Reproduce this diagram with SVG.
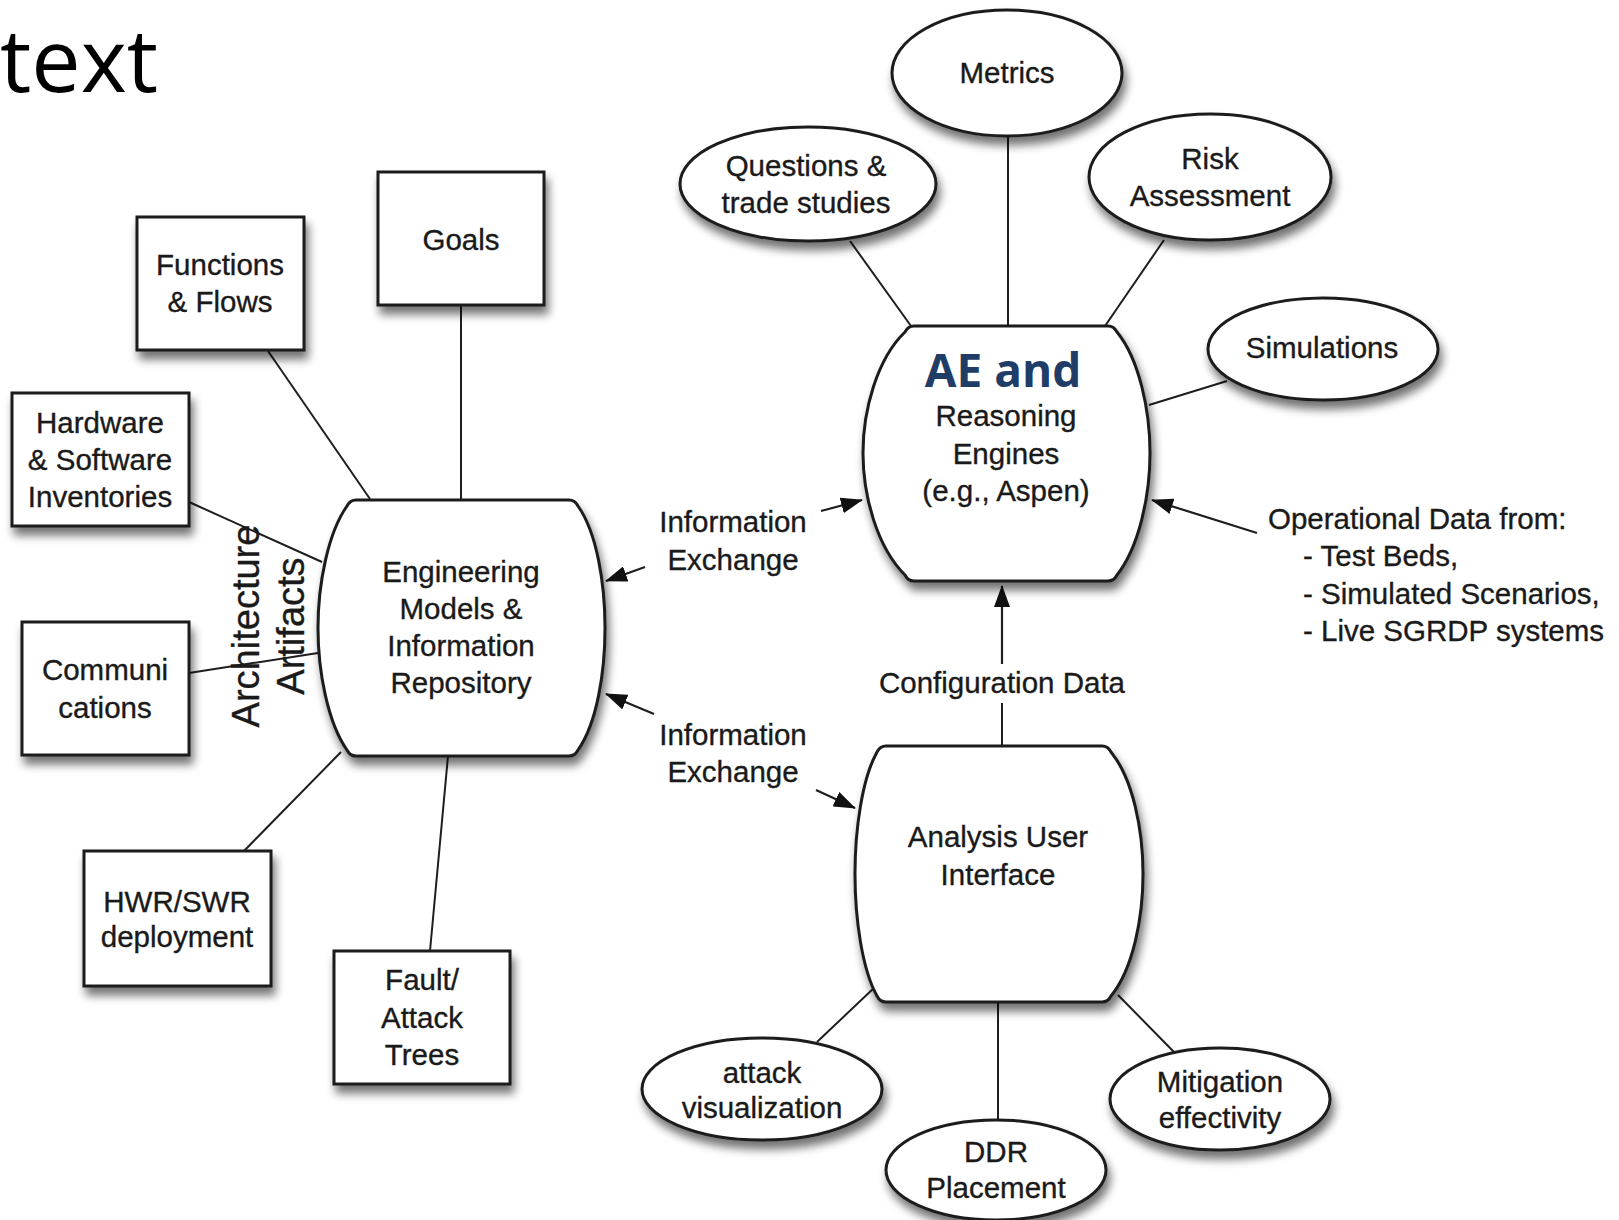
<svg xmlns="http://www.w3.org/2000/svg" width="1619" height="1220" viewBox="0 0 1619 1220">
  <style>
    .shape { fill: #ffffff; stroke: #1c1c1c; stroke-width: 3; }
    .lbl { font-family: "Liberation Sans", Arial, sans-serif; font-size: 29.5px; fill: #1a1a1a; stroke: #1a1a1a; stroke-width: 0.35; text-anchor: middle; }
    .lbl-left { font-family: "Liberation Sans", Arial, sans-serif; font-size: 29.5px; fill: #1a1a1a; stroke: #1a1a1a; stroke-width: 0.35; }
    .side { font-family: "Liberation Sans", Arial, sans-serif; font-size: 38px; fill: #1a1a1a; stroke: #1a1a1a; stroke-width: 0.35; text-anchor: middle; }
    .title { font-family: "Open Sans", "Noto Sans", sans-serif; font-size: 88px; fill: #000000; }
    .ae { font-family: "Open Sans", "Noto Sans", sans-serif; font-size: 46px; font-weight: bold; fill: #1f3d66; text-anchor: middle; }
    .link { stroke: #1e1e1e; stroke-width: 2; fill: none; }
    .arrow { stroke: #1e1e1e; stroke-width: 2.2; fill: none; marker-end: url(#head); }
  </style>
  <defs>
    <filter id="shadow" x="-20%" y="-20%" width="140%" height="150%">
      <feGaussianBlur in="SourceAlpha" stdDeviation="5"/>
      <feOffset dx="3" dy="8" result="blur"/>
      <feComponentTransfer>
        <feFuncA type="linear" slope="0.55"/>
      </feComponentTransfer>
      <feMerge>
        <feMergeNode/>
        <feMergeNode in="SourceGraphic"/>
      </feMerge>
    </filter>
    <marker id="head" viewBox="0 0 22 16" refX="21" refY="8" markerUnits="userSpaceOnUse" markerWidth="22" markerHeight="16" orient="auto">
      <path d="M0,0 L22,8 L0,16 z" fill="#111111"/>
    </marker>
  </defs>

  <rect width="1619" height="1220" fill="#ffffff"/>

  <text class="title" x="0" y="92">text</text>

  <!-- connectors -->
  <g id="connectors">
    <line class="link" x1="268" y1="351" x2="370" y2="499"/>
    <line class="link" x1="461" y1="305" x2="461" y2="500"/>
    <line class="link" x1="189" y1="502" x2="322" y2="562"/>
    <line class="link" x1="189" y1="673" x2="318" y2="653"/>
    <line class="link" x1="244" y1="851" x2="341" y2="752"/>
    <line class="link" x1="430" y1="951" x2="448" y2="756"/>
    <line class="link" x1="850" y1="241" x2="911" y2="326"/>
    <line class="link" x1="1008" y1="137" x2="1008" y2="326"/>
    <line class="link" x1="1164" y1="240" x2="1105" y2="326"/>
    <line class="link" x1="1227" y1="381" x2="1149" y2="405"/>
    <line class="link" x1="817" y1="1042" x2="875" y2="987"/>
    <line class="link" x1="998" y1="1002" x2="998" y2="1120"/>
    <line class="link" x1="1174" y1="1052" x2="1118" y2="995"/>
    <line class="arrow" x1="821" y1="511" x2="862" y2="500"/>
    <line class="arrow" x1="645" y1="567" x2="606" y2="581"/>
    <line class="arrow" x1="654" y1="714" x2="606" y2="694"/>
    <line class="arrow" x1="816" y1="790" x2="855" y2="808"/>
    <line class="arrow" x1="1257" y1="533" x2="1152" y2="500"/>
    <line class="link" x1="1002" y1="746" x2="1002" y2="703"/>
    <line class="arrow" x1="1002" y1="664" x2="1002" y2="586"/>
  </g>

  <!-- edge labels -->
  <g id="edge-labels">
    <text class="lbl" x="733" y="532">Information</text>
    <text class="lbl" x="733" y="570">Exchange</text>
    <text class="lbl" x="733" y="745">Information</text>
    <text class="lbl" x="733" y="782">Exchange</text>
    <text class="lbl" x="1002" y="693">Configuration Data</text>
    <text class="lbl-left" x="1268" y="529">Operational Data from:</text>
    <text class="lbl-left" x="1303" y="566">- Test Beds,</text>
    <text class="lbl-left" x="1303" y="604">- Simulated Scenarios,</text>
    <text class="lbl-left" x="1303" y="641">- Live SGRDP systems</text>
  </g>

  <!-- artifact boxes -->
  <g id="goals">
    <rect class="shape" filter="url(#shadow)" x="378" y="172" width="166" height="133"/>
    <text class="lbl" x="461" y="250">Goals</text>
  </g>
  <g id="functions-flows">
    <rect class="shape" filter="url(#shadow)" x="137" y="217" width="167" height="133"/>
    <text class="lbl" x="220" y="275">Functions</text>
    <text class="lbl" x="220" y="312">&amp; Flows</text>
  </g>
  <g id="hw-sw-inventories">
    <rect class="shape" filter="url(#shadow)" x="12" y="393" width="177" height="133"/>
    <text class="lbl" x="100" y="433">Hardware</text>
    <text class="lbl" x="100" y="470">&amp; Software</text>
    <text class="lbl" x="100" y="507">Inventories</text>
  </g>
  <g id="communications">
    <rect class="shape" filter="url(#shadow)" x="22" y="622" width="167" height="133"/>
    <text class="lbl" x="105" y="680">Communi</text>
    <text class="lbl" x="105" y="718">cations</text>
  </g>
  <g id="hwr-swr-deployment">
    <rect class="shape" filter="url(#shadow)" x="84" y="851" width="187" height="135"/>
    <text class="lbl" x="177" y="912">HWR/SWR</text>
    <text class="lbl" x="177" y="947">deployment</text>
  </g>
  <g id="fault-attack-trees">
    <rect class="shape" filter="url(#shadow)" x="334" y="951" width="176" height="133"/>
    <text class="lbl" x="422" y="990">Fault/</text>
    <text class="lbl" x="422" y="1028">Attack</text>
    <text class="lbl" x="422" y="1065">Trees</text>
  </g>

  <g id="architecture-artifacts">
    <text class="side" x="259" y="626" transform="rotate(-90 259 626)">Architecture</text>
    <text class="side" x="304" y="626" transform="rotate(-90 304 626)">Artifacts</text>
  </g>

  <!-- repository -->
  <g id="engineering-repository">
    <path class="shape" filter="url(#shadow)" d="M356,500 H569 Q575,500 578,506 C597,533 605,584 605,628 C605,672 597,723 578,750 Q575,756 569,756 H356 Q350,756 347,750 C328,723 318,672 318,628 C318,584 328,533 347,506 Q350,500 356,500 Z"/>
    <text class="lbl" x="461" y="582">Engineering</text>
    <text class="lbl" x="461" y="619">Models &amp;</text>
    <text class="lbl" x="461" y="656">Information</text>
    <text class="lbl" x="461" y="693">Repository</text>
  </g>

  <!-- reasoning engines -->
  <g id="reasoning-engines">
    <path class="shape" filter="url(#shadow)" d="M914,326 H1108 Q1114,326 1117,332 C1139,359 1150,410 1150,453 C1150,496 1139,547 1117,575 Q1114,581 1108,581 H914 Q908,581 905,575 C877,547 863,496 863,453 C863,410 877,359 905,332 Q908,326 914,326 Z"/>
    <text class="ae" x="1003" y="387">AE and</text>
    <text class="lbl" x="1006" y="426">Reasoning</text>
    <text class="lbl" x="1006" y="464">Engines</text>
    <text class="lbl" x="1006" y="501">(e.g., Aspen)</text>
  </g>

  <!-- analysis UI -->
  <g id="analysis-ui">
    <path class="shape" filter="url(#shadow)" d="M886,746 H1102 Q1108,746 1111,752 C1133,779 1143,830 1143,874 C1143,918 1133,969 1111,996 Q1108,1002 1102,1002 H886 Q880,1002 877,996 C862,969 855,918 855,874 C855,830 862,779 877,752 Q880,746 886,746 Z"/>
    <text class="lbl" x="998" y="847">Analysis User</text>
    <text class="lbl" x="998" y="885">Interface</text>
  </g>

  <!-- outputs of reasoning engines -->
  <g id="metrics">
    <ellipse class="shape" filter="url(#shadow)" cx="1007" cy="73" rx="115" ry="63"/>
    <text class="lbl" x="1007" y="83">Metrics</text>
  </g>
  <g id="questions">
    <ellipse class="shape" filter="url(#shadow)" cx="808" cy="184" rx="128" ry="57"/>
    <text class="lbl" x="806" y="176">Questions &amp;</text>
    <text class="lbl" x="806" y="213">trade studies</text>
  </g>
  <g id="risk-assessment">
    <ellipse class="shape" filter="url(#shadow)" cx="1210" cy="177" rx="121" ry="63"/>
    <text class="lbl" x="1210" y="169">Risk</text>
    <text class="lbl" x="1210" y="206">Assessment</text>
  </g>
  <g id="simulations">
    <ellipse class="shape" filter="url(#shadow)" cx="1323" cy="349" rx="115" ry="51"/>
    <text class="lbl" x="1322" y="358">Simulations</text>
  </g>

  <!-- outputs of analysis UI -->
  <g id="attack-visualization">
    <ellipse class="shape" filter="url(#shadow)" cx="762" cy="1089" rx="120" ry="51"/>
    <text class="lbl" x="762" y="1083">attack</text>
    <text class="lbl" x="762" y="1118">visualization</text>
  </g>
  <g id="ddr-placement">
    <ellipse class="shape" filter="url(#shadow)" cx="996" cy="1170" rx="110" ry="50"/>
    <text class="lbl" x="996" y="1162">DDR</text>
    <text class="lbl" x="996" y="1198">Placement</text>
  </g>
  <g id="mitigation-effectivity">
    <ellipse class="shape" filter="url(#shadow)" cx="1220" cy="1099" rx="110" ry="51"/>
    <text class="lbl" x="1220" y="1092">Mitigation</text>
    <text class="lbl" x="1220" y="1128">effectivity</text>
  </g>
</svg>
